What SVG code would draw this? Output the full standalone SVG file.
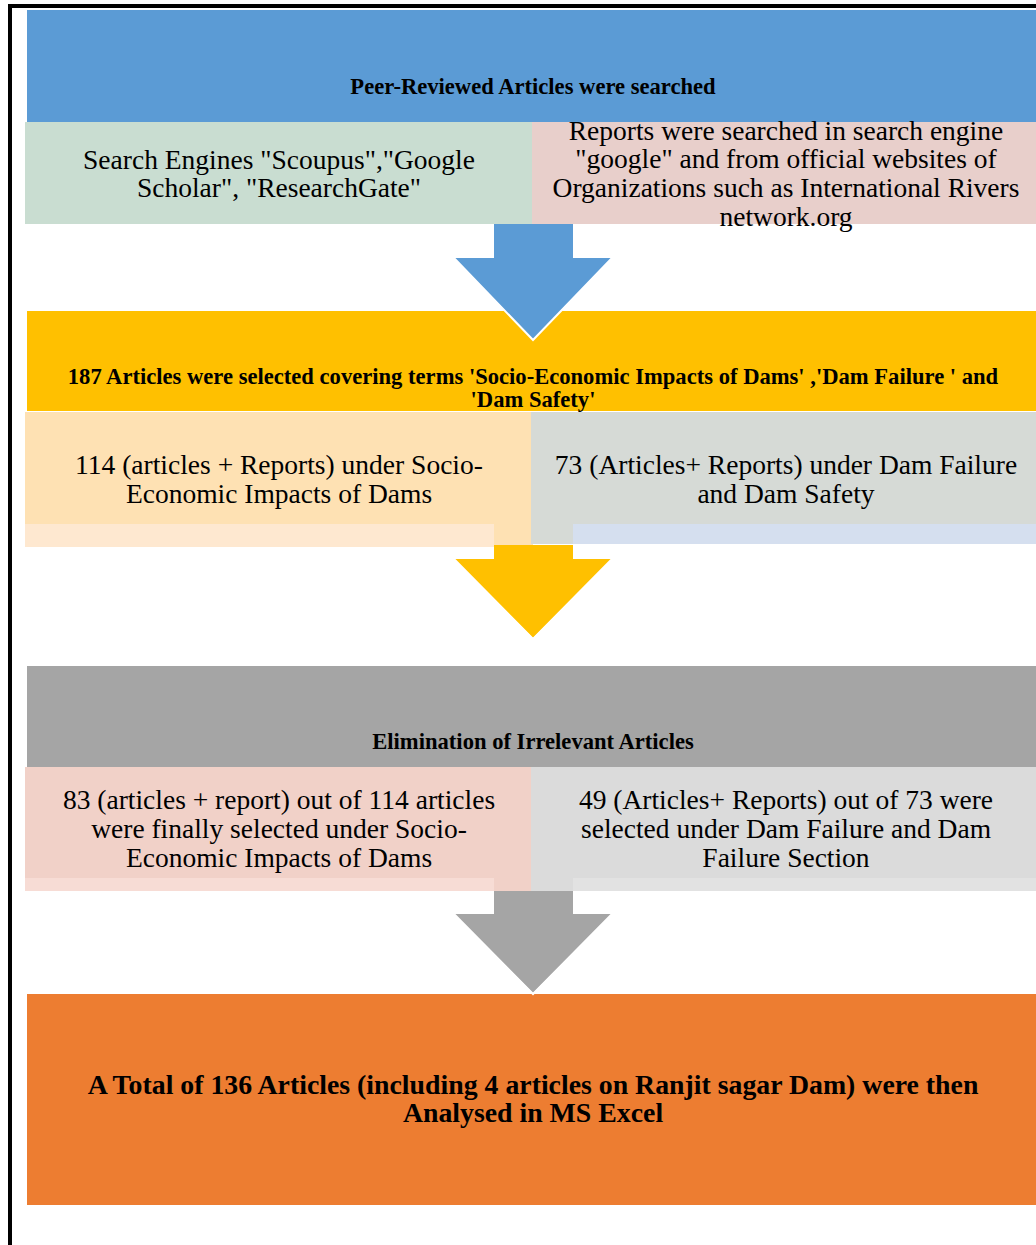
<svg xmlns="http://www.w3.org/2000/svg" width="1036" height="1245" viewBox="0 0 1036 1245">
<style>
  .h { font-family: "Liberation Serif", "Times New Roman", serif; font-weight: bold; font-size: 22.6px; fill: #000; text-anchor: middle; }
  .t { font-family: "Liberation Serif", "Times New Roman", serif; font-size: 27.5px; fill: #000; text-anchor: middle; }
  .big { font-family: "Liberation Serif", "Times New Roman", serif; font-weight: bold; font-size: 27.8px; fill: #000; text-anchor: middle; }
  .edge { fill: none; stroke: #FFFFFF; stroke-width: 2; }
</style>
<rect x="0" y="0" width="1036" height="1245" fill="#FFFFFF"/>
<g id="frame">
  <rect x="8" y="4" width="1028" height="4" fill="#000"/>
  <rect x="8" y="4" width="4" height="1241" fill="#000"/>
</g>

<g id="node-peer">
  <rect x="27" y="10" width="1009" height="112" fill="#5B9BD5"/>
  <text class="h" x="533" y="94">Peer-Reviewed Articles were searched</text>
</g>
<g id="node-search-engines">
  <rect x="25" y="122" width="507" height="102" fill="#C9DDD1"/>
  <text class="t" x="279" y="169">Search Engines "Scoupus","Google</text>
  <text class="t" x="279" y="197">Scholar", "ResearchGate"</text>
</g>
<g id="node-reports">
  <rect x="532" y="122" width="504" height="102" fill="#E8CFCB"/>
  <text class="t" x="786" y="140">Reports were searched in search engine</text>
  <text class="t" x="786" y="168">"google" and from official websites of</text>
  <text class="t" x="786" y="197">Organizations such as International Rivers</text>
  <text class="t" x="786" y="226">network.org</text>
</g>

<g id="node-187">
  <rect x="27" y="311" width="1009" height="100" fill="#FFC000"/>
  <text class="h" x="533" y="384">187 Articles were selected covering terms 'Socio-Economic Impacts of Dams' ,'Dam Failure ' and</text>
  <text class="h" x="533" y="407">'Dam Safety'</text>
</g>
<g id="node-114">
  <rect x="25" y="412" width="508" height="134" fill="#FEE1B3"/>
  <rect x="25" y="524" width="469" height="23" fill="#FEE8D0"/>
  <text class="t" x="279" y="474">114 (articles + Reports) under Socio-</text>
  <text class="t" x="279" y="503">Economic Impacts of Dams</text>
</g>
<g id="node-73">
  <rect x="531" y="412" width="505" height="132" fill="#D6DAD6"/>
  <rect x="573" y="524" width="463" height="20" fill="#D5DFEF"/>
  <text class="t" x="786" y="474">73 (Articles+ Reports) under Dam Failure</text>
  <text class="t" x="786" y="503">and Dam Safety</text>
</g>

<g id="node-elimination">
  <rect x="27" y="666" width="1009" height="101" fill="#A5A5A5"/>
  <text class="h" x="533" y="749">Elimination of Irrelevant Articles</text>
</g>
<g id="node-83">
  <rect x="25" y="767" width="508" height="124" fill="#F1D1C8"/>
  <rect x="25" y="878" width="469" height="13" fill="#F7DCD5"/>
  <text class="t" x="279" y="809">83 (articles + report) out of 114 articles</text>
  <text class="t" x="279" y="838">were finally selected under Socio-</text>
  <text class="t" x="279" y="867">Economic Impacts of Dams</text>
</g>
<g id="node-49">
  <rect x="531" y="767" width="505" height="124" fill="#DBDBDB"/>
  <rect x="573" y="878" width="463" height="13" fill="#E2E2E2"/>
  <text class="t" x="786" y="809">49 (Articles+ Reports) out of 73 were</text>
  <text class="t" x="786" y="838">selected under Dam Failure and Dam</text>
  <text class="t" x="786" y="867">Failure Section</text>
</g>

<g id="node-total">
  <rect x="27" y="994" width="1009" height="211" fill="#ED7D31"/>
  <text class="big" x="533" y="1094">A Total of 136 Articles (including 4 articles on Ranjit sagar Dam) were then</text>
  <text class="big" x="533" y="1122">Analysed in MS Excel</text>
</g>

<g id="connectors">
  <path d="M494,224 L573,224 L573,258 L612,258 L533,339 L454,258 L494,258 Z" fill="#5B9BD5"/>
  <polyline class="edge" points="454,258 533,340 612,258"/>
  <path d="M494,545 L573,545 L573,559 L612,559 L533,638 L454,559 L494,559 Z" fill="#FFC000"/>
  <polyline class="edge" points="454,559 533,639 612,559"/>
  <path d="M494,891 L573,891 L573,914 L612,914 L533,993 L454,914 L494,914 Z" fill="#A5A5A5"/>
  <polyline class="edge" points="454,914 533,994 612,914"/>
</g>
</svg>
